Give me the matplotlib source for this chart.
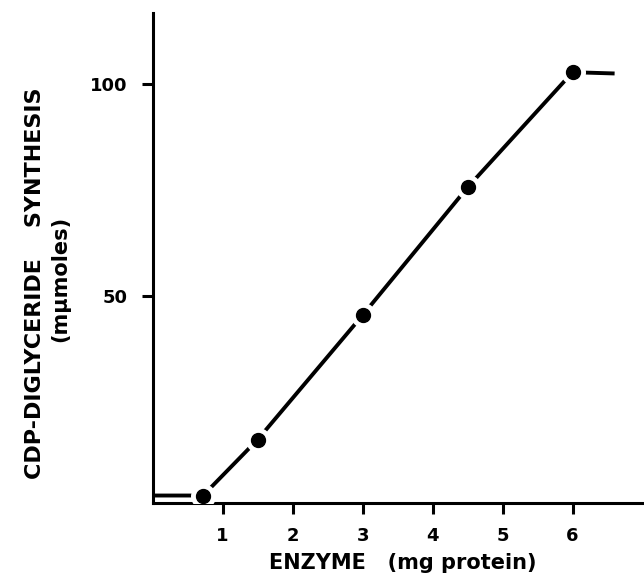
import numpy as np
import matplotlib.pyplot as plt

# enzyme amount (mg protein) vs CDP-diglyceride formed (m-mu-moles)
enzyme = [0.72, 1.5, 3.0, 4.5, 6.0]
synthesis = [2.8, 16.0, 45.4, 75.6, 102.8]

# drawn curve: flat start, linear part, plateau
curve_x = [0.0, 0.72, 1.5, 3.0, 4.5, 6.0, 6.6]
curve_y = [2.8, 2.8, 16.0, 45.4, 75.6, 102.8, 102.5]

x_ticks = [1, 2, 3, 4, 5, 6]
y_ticks = [50, 100]

plt.rcParams["font.family"] = ["DejaVu Sans"]

fig = plt.figure(figsize=(6.44, 5.81), dpi=100)
ax = fig.add_axes([0.237, 0.134, 0.763, 0.843])

ax.plot(curve_x, curve_y, color="black", linewidth=2.8, solid_capstyle="butt", zorder=2)
# white halo round each point leaves the gaps seen in the original
ax.plot(
    enzyme, synthesis, "o",
    color="black", markersize=10,
    markeredgecolor="white", markeredgewidth=8,
    zorder=3
)
ax.plot(enzyme, synthesis, "o", color="black", markersize=10, zorder=4)

ax.set_xlim(0, 7.02)
ax.set_ylim(1, 116.7)

ax.spines["top"].set_visible(False)
ax.spines["right"].set_visible(False)
ax.spines["left"].set_linewidth(2.2)
ax.spines["bottom"].set_linewidth(2.2)

ax.set_xticks(x_ticks)
ax.set_yticks(y_ticks)
ax.set_xticklabels([str(v) for v in x_ticks], fontsize=13, fontweight="bold")
ax.set_yticklabels([str(v) for v in y_ticks], fontsize=13, fontweight="bold")
ax.tick_params(axis="both", direction="out", length=8, width=2.2)
ax.tick_params(axis="x", pad=9)
ax.tick_params(axis="y", pad=10)

fig.text(0.625, 0.031, "ENZYME   (mg protein)", ha="center", va="center",
         fontsize=15, fontweight="bold")
fig.text(0.054, 0.513, "CDP-DIGLYCERIDE    SYNTHESIS", rotation=90,
         ha="center", va="center", fontsize=16, fontweight="bold")
fig.text(0.093, 0.52, "(m\u03bcmoles)", rotation=90,
         ha="center", va="center", fontsize=15, fontweight="bold")

plt.savefig("out.png", dpi=100)
plt.close()
